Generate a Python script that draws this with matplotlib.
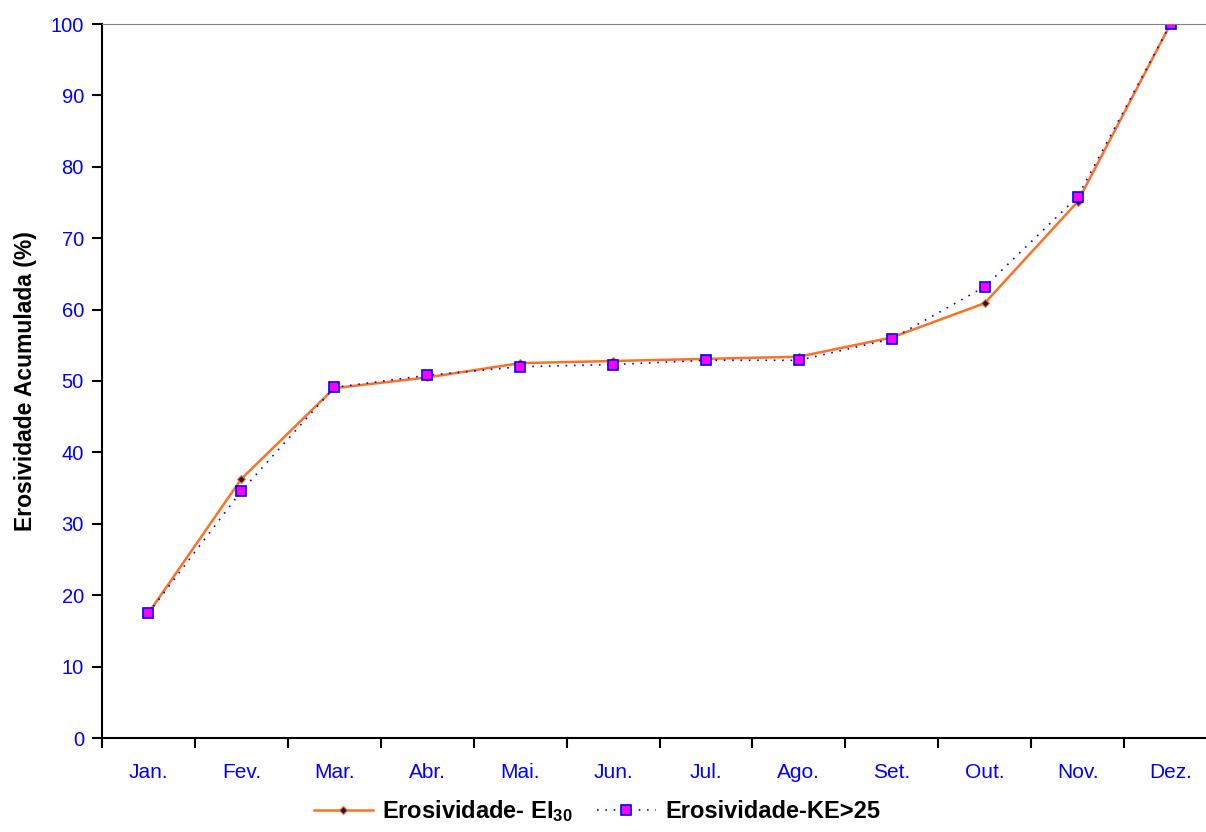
import matplotlib
matplotlib.use('Agg')
import matplotlib.pyplot as plt
import numpy as np

plt.rcParams['font.family'] = ['Liberation Sans', 'DejaVu Sans']
plt.rcParams['mathtext.default'] = 'regular'

# Monthly cumulative erosivity (%)
months = ['Jan.', 'Fev.', 'Mar.', 'Abr.', 'Mai.', 'Jun.', 'Jul.', 'Ago.', 'Set.', 'Out.', 'Nov.', 'Dez.']
ei30 = [17.5, 36.3, 49.0, 50.5, 52.5, 52.8, 53.1, 53.4, 56.1, 60.9, 75.1, 100.0]
ke25 = [17.5, 34.6, 49.1, 50.8, 52.0, 52.3, 52.9, 52.9, 55.9, 63.2, 75.8, 100.0]
yticks = np.arange(0, 101, 10)

fig = plt.figure(figsize=(12.06, 8.32), dpi=100)
ax = fig.add_axes([102 / 1206, 94 / 832, 1115 / 1206, 714 / 832])

x = np.arange(len(months))
ax.plot(x, ei30, color='#ff7020', lw=1.8, marker='D', ms=4,
        mfc='#1a1a4a', mec='#ff7020', mew=0.8, label='Erosividade- EI$_{30}$')
ax.plot(x, ke25, color='#0000ff', lw=1.2, ls=(0, (1, 4)), marker='s', ms=7,
        mfc='#ff00ff', mec='#0000ff', mew=1.2, label='Erosividade-KE>25')

ax.set_xlim(-0.5, len(months) - 0.5)
ax.set_ylim(0, 100)
ax.set_yticks(yticks)
ax.set_xticks(x)
ax.set_xticklabels(months)
ax.set_xticks(np.arange(-0.5, len(months), 1), minor=True)
ax.tick_params(axis='x', which='major', length=0, pad=18, labelsize=15, labelcolor='#0000ff')
ax.tick_params(axis='x', which='minor', length=7, width=1.5, direction='out')
ax.tick_params(axis='y', length=7, width=1.5, direction='out', labelsize=14.5, labelcolor='#0000ff', pad=6)

for s in ['left', 'bottom']:
    ax.spines[s].set_linewidth(1.5)
ax.spines['top'].set_color('#808080')
ax.spines['right'].set_visible(False)

ax.set_ylabel('Erosividade Acumulada (%)', fontsize=16.5, fontweight='bold', labelpad=10)

leg = fig.legend(loc='center', bbox_to_anchor=(0.495, 0.025), ncol=2, frameon=False,
                 prop={'size': 17, 'weight': 'bold'}, handlelength=2.5, columnspacing=1.0,
                 handletextpad=0.4)

fig.savefig('out.png', dpi=100)
